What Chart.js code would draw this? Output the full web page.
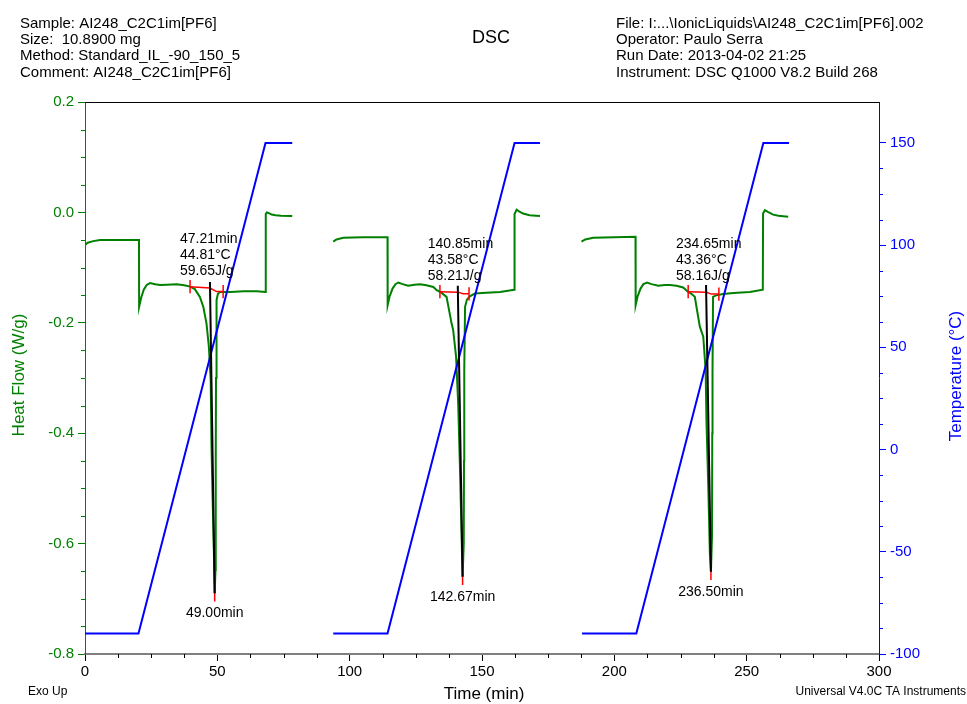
<!DOCTYPE html>
<html>
<head>
<meta charset="utf-8">
<script src="https://cdn.jsdelivr.net/npm/chart.js@4"></script>
<style>
  html, body { margin: 0; padding: 0; background: #fff; }
  canvas { display: block; }
</style>
</head>
<body>
<canvas id="dsc" width="967" height="704"></canvas>
<script>
// Heat flow (W/g) against time (min), one trace per cycle
const cycle1Time = [0, 1.0, 3.1, 5.7, 12, 20.4, 20.45, 21.2, 22.2, 23.3, 24.6, 26.5, 28.3, 31.0, 34.6, 37.5, 39.7, 41.5, 43.4, 44.7, 45.9, 46.8, 47.5, 47.8, 48.2, 48.8, 49.0, 49.3, 49.4, 49.5, 49.7, 50.2, 51.0, 55.0, 60.0, 65.0, 68.2, 68.3, 68.7, 69.3, 70.5, 72.0, 74.0, 78.3];
const cycle1Heat = [-0.059, -0.055, -0.052, -0.050, -0.050, -0.050, -0.171, -0.155, -0.140, -0.1315, -0.128, -0.130, -0.1315, -0.131, -0.130, -0.132, -0.1345, -0.139, -0.153, -0.171, -0.201, -0.243, -0.304, -0.424, -0.515, -0.636, -0.690, -0.648, -0.450, -0.300, -0.159, -0.148, -0.144, -0.144, -0.143, -0.143, -0.144, -0.003, 0.000, -0.001, -0.004, -0.005, -0.006, -0.0066];

const cycle2Time = [93.8, 95.0, 97.6, 105, 114.3, 114.35, 115.1, 116.2, 117.3, 118.4, 120.0, 122.1, 124.5, 126.6, 129.0, 131.6, 132.9, 134.5, 136.6, 138.5, 139.1, 140.2, 141.0, 141.7, 142.3, 142.67, 143.1, 143.2, 143.3, 143.6, 144.3, 145.4, 147.3, 150.0, 156.8, 162.2, 162.3, 163.1, 164.0, 165.5, 168.0, 171.9];
const cycle2Heat = [-0.053, -0.049, -0.046, -0.045, -0.045, -0.168, -0.152, -0.138, -0.130, -0.127, -0.130, -0.133, -0.131, -0.130, -0.132, -0.135, -0.141, -0.145, -0.153, -0.201, -0.213, -0.261, -0.346, -0.467, -0.588, -0.660, -0.600, -0.450, -0.285, -0.171, -0.158, -0.152, -0.147, -0.146, -0.144, -0.140, -0.003, 0.005, 0.002, -0.002, -0.005, -0.0066];

const cycle3Time = [187.6, 189.0, 192.0, 200, 208.0, 208.05, 208.8, 209.9, 211.0, 212.4, 214.0, 216.6, 219.0, 221.0, 223.5, 226.0, 227.9, 229.0, 230.4, 232.3, 233.6, 234.5, 234.8, 235.5, 236.1, 236.5, 236.9, 237.0, 237.1, 237.3, 238.6, 241.1, 245.0, 251.2, 256.1, 256.2, 256.9, 258.0, 260.0, 262.0, 265.7];
const cycle3Heat = [-0.053, -0.049, -0.046, -0.045, -0.044, -0.168, -0.152, -0.138, -0.130, -0.127, -0.130, -0.133, -0.1315, -0.1315, -0.133, -0.136, -0.144, -0.147, -0.153, -0.207, -0.225, -0.285, -0.376, -0.497, -0.618, -0.651, -0.587, -0.400, -0.285, -0.153, -0.150, -0.148, -0.146, -0.144, -0.140, -0.002, 0.004, 0.001, -0.004, -0.006, -0.008];

// Sample temperature (°C): hold at -90, ramp 5 °C/min, hold at 150
const temp1Time = [0, 20.2, 68.2, 78.3];
const temp2Time = [93.8, 114.3, 162.3, 171.9];
const temp3Time = [187.8, 208.3, 256.3, 266.0];
const tempValue = [-90, -90, 150, 150];

// Melting analysis of each cycle
const onsetTimes = [47.21, 140.85, 234.65];
const onsetTemps = [44.81, 43.58, 43.36];
const enthalpies = [59.65, 58.21, 58.16];
const onsetHeat = [-0.126, -0.133, -0.1315];
const peakTimes = [49.00, 142.67, 236.50];
const peakHeat = [-0.690, -0.660, -0.651];
const baselineTimes = [[39.7, 47.2, 49.7, 52.2], [134.1, 141.0, 142.8, 145.1], [227.9, 234.8, 236.7, 239.5]];
const baselineHeat = [[-0.1345, -0.137, -0.1435, -0.1435], [-0.1436, -0.1445, -0.1475, -0.1475], [-0.1436, -0.1446, -0.148, -0.148]];

// Labelled axis ticks
const timeTicks = [0, 50, 100, 150, 200, 250, 300];
const heatTicks = [-0.8, -0.6, -0.4, -0.2, 0.0, 0.2];
const tempTicks = [-100, -50, 0, 50, 100, 150];

// Run information
const headerLeft = ['Sample: AI248_C2C1im[PF6]', 'Size:  10.8900 mg', 'Method: Standard_IL_-90_150_5', 'Comment: AI248_C2C1im[PF6]'];
const headerRight = ['File: I:...\\IonicLiquids\\AI248_C2C1im[PF6].002', 'Operator: Paulo Serra', 'Run Date: 2013-04-02 21:25', 'Instrument: DSC Q1000 V8.2 Build 268'];

const FONT = '"Liberation Sans", Arial, Helvetica, sans-serif';
const GREEN = '#008000';
const BLUE = '#0000ff';
const RED = '#ff0000';

Chart.defaults.font.family = FONT;

const pts = (xs, ys) => xs.map((x, i) => ({ x, y: ys[i] }));
const isMajor = (v, list) => list.some(m => Math.abs(m - v) < 1e-6);

const datasets = [];
[[cycle1Time, cycle1Heat], [cycle2Time, cycle2Heat], [cycle3Time, cycle3Heat]].forEach(([t, h]) => {
  datasets.push({ data: pts(t, h), yAxisID: 'y', borderColor: GREEN, borderWidth: 2, order: 5 });
});
[temp1Time, temp2Time, temp3Time].forEach(t => {
  datasets.push({ data: pts(t, tempValue), yAxisID: 'y2', borderColor: BLUE, borderWidth: 2, order: 4 });
});
for (let i = 0; i < 3; i++) {
  const bt = baselineTimes[i], bh = baselineHeat[i];
  // integration baseline with end caps
  datasets.push({ data: pts(bt, bh), yAxisID: 'y', borderColor: RED, borderWidth: 1.5, order: 2 });
  [0, bt.length - 1].forEach(k => {
    datasets.push({ data: [{ x: bt[k], y: bh[k] + 0.012 }, { x: bt[k], y: bh[k] - 0.012 }], yAxisID: 'y', borderColor: RED, borderWidth: 1.5, order: 2 });
  });
  // peak marker
  datasets.push({ data: [{ x: peakTimes[i], y: peakHeat[i] + 0.004 }, { x: peakTimes[i], y: peakHeat[i] - 0.015 }], yAxisID: 'y', borderColor: RED, borderWidth: 1.5, order: 2 });
  // onset-to-peak line
  datasets.push({ data: [{ x: onsetTimes[i], y: onsetHeat[i] }, { x: peakTimes[i], y: peakHeat[i] }], yAxisID: 'y', borderColor: '#000', borderWidth: 2, order: 1 });
}

function drawMinor(ctx, scale, majors, len, color, side) {
  ctx.save();
  ctx.strokeStyle = color;
  ctx.lineWidth = 1;
  scale.ticks.forEach(t => {
    if (isMajor(t.value, majors)) return;
    const step = scale.options.ticks.stepSize;
    const k = (t.value - scale.min) / step;
    if (Math.abs(k - Math.round(k)) > 1e-6) return;
    const p = Math.round(scale.getPixelForValue(t.value)) + 0.5;
    ctx.beginPath();
    if (side === 'bottom') { ctx.moveTo(p, scale.top); ctx.lineTo(p, scale.top + len); }
    else if (side === 'left') { ctx.moveTo(scale.right, p); ctx.lineTo(scale.right - len, p); }
    else { ctx.moveTo(scale.left, p); ctx.lineTo(scale.left + len, p); }
    ctx.stroke();
  });
  ctx.restore();
}

const decor = {
  id: 'decor',
  afterDraw(chart) {
    const ctx = chart.ctx;
    const { x, y, y2 } = chart.scales;
    const area = chart.chartArea;

    drawMinor(ctx, x, timeTicks, 4, '#000', 'bottom');
    drawMinor(ctx, y, heatTicks, 4, GREEN, 'left');
    drawMinor(ctx, y2, tempTicks, 4, BLUE, 'right');

    // top frame line
    ctx.save();
    ctx.strokeStyle = '#000';
    ctx.lineWidth = 1;
    ctx.beginPath();
    ctx.moveTo(area.left, area.top + 0.5);
    ctx.lineTo(area.right, area.top + 0.5);
    ctx.stroke();

    ctx.fillStyle = '#000';
    ctx.textBaseline = 'alphabetic';

    // header blocks
    ctx.font = '15px ' + FONT;
    ctx.textAlign = 'left';
    headerLeft.forEach((s, i) => ctx.fillText(s, 20, 27.5 + i * 16.4));
    headerRight.forEach((s, i) => ctx.fillText(s, 616, 27.5 + i * 16.4));
    ctx.font = '18px ' + FONT;
    ctx.textAlign = 'center';
    ctx.fillText('DSC', 491, 43);

    // bottom texts
    ctx.font = '17px ' + FONT;
    ctx.fillText('Time (min)', 484, 699);
    ctx.font = '12px ' + FONT;
    ctx.textAlign = 'left';
    ctx.fillText('Exo Up', 28, 695);
    ctx.textAlign = 'right';
    ctx.fillText('Universal V4.0C TA Instruments', 966, 695);

    // axis titles
    ctx.font = '17px ' + FONT;
    ctx.textAlign = 'center';
    ctx.save();
    ctx.translate(24, 375);
    ctx.rotate(-Math.PI / 2);
    ctx.fillStyle = GREEN;
    ctx.fillText('Heat Flow (W/g)', 0, 0);
    ctx.restore();
    ctx.save();
    ctx.translate(961, 376);
    ctx.rotate(-Math.PI / 2);
    ctx.fillStyle = BLUE;
    ctx.fillText('Temperature (°C)', 0, 0);
    ctx.restore();

    // melting results
    ctx.font = '14px ' + FONT;
    ctx.fillStyle = '#000';
    for (let i = 0; i < 3; i++) {
      const lx = x.getPixelForValue(onsetTimes[i]) - 30;
      const ly = y.getPixelForValue(baselineHeat[i][0]) - 44;
      ctx.textAlign = 'left';
      ctx.fillText(onsetTimes[i].toFixed(2) + 'min', lx, ly);
      ctx.fillText(onsetTemps[i].toFixed(2) + '°C', lx, ly + 16);
      ctx.fillText(enthalpies[i].toFixed(2) + 'J/g', lx, ly + 32);
      ctx.textAlign = 'center';
      ctx.fillText(peakTimes[i].toFixed(2) + 'min', x.getPixelForValue(peakTimes[i]), y.getPixelForValue(peakHeat[i]) + 24);
    }
    ctx.restore();
  }
};

new Chart(document.getElementById('dsc'), {
  type: 'line',
  data: { datasets },
  options: {
    responsive: false,
    animation: false,
    events: [],
    layout: { padding: { top: 102, left: 0, right: 0, bottom: 0 } },
    elements: { point: { radius: 0 }, line: { tension: 0 } },
    plugins: { legend: { display: false }, tooltip: { enabled: false }, title: { display: false } },
    scales: {
      x: {
        type: 'linear', position: 'bottom', min: 0, max: 300,
        afterFit: s => { s.height = 50; },
        ticks: {
          stepSize: 12.5, autoSkip: false, maxRotation: 0, padding: 2,
          color: '#000', font: { size: 15 },
          callback: v => isMajor(v, timeTicks) ? String(v) : ''
        },
        grid: {
          drawOnChartArea: false, tickLength: 7, tickWidth: 1,
          tickColor: c => isMajor(c.tick.value, timeTicks) ? '#000' : 'rgba(0,0,0,0)'
        },
        border: { color: '#808080', width: 2 }
      },
      y: {
        type: 'linear', position: 'left', min: -0.8, max: 0.2,
        afterFit: s => { s.width = 85; },
        ticks: {
          stepSize: 0.05, autoSkip: false, padding: 4,
          color: GREEN, font: { size: 15 },
          callback: v => isMajor(v, heatTicks) ? v.toFixed(1) : ''
        },
        grid: {
          drawOnChartArea: false, tickLength: 7, tickWidth: 1,
          tickColor: c => isMajor(c.tick.value, heatTicks) ? GREEN : 'rgba(0,0,0,0)'
        },
        border: { color: GREEN, width: 1 }
      },
      y2: {
        type: 'linear', position: 'right', min: -100, max: 170,
        afterFit: s => { s.width = 88; },
        ticks: {
          stepSize: 12.5, autoSkip: false, padding: 4,
          color: BLUE, font: { size: 15 },
          callback: v => isMajor(v, tempTicks) ? String(v) : ''
        },
        grid: {
          drawOnChartArea: false, tickLength: 7, tickWidth: 1,
          tickColor: c => isMajor(c.tick.value, tempTicks) ? BLUE : 'rgba(0,0,0,0)'
        },
        border: { color: BLUE, width: 1 }
      }
    }
  },
  plugins: [decor]
});
</script>
</body>
</html>
